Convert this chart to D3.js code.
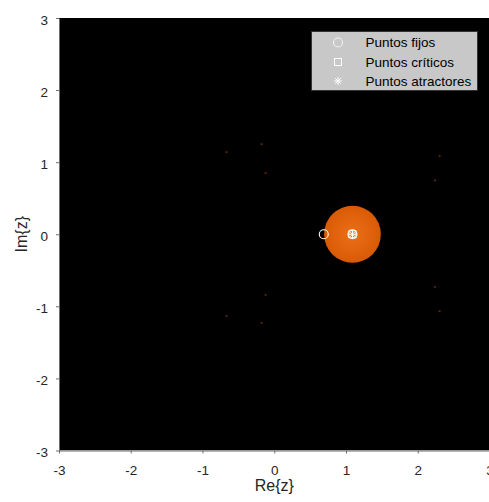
<!DOCTYPE html>
<html><head><meta charset="utf-8">
<script src="https://cdn.jsdelivr.net/npm/d3@7"></script>
<style>
body{margin:0;background:#fff}
svg{display:block;font-family:"Liberation Sans",Arial,Helvetica,sans-serif}
</style>
</head><body>
<svg id="chart" width="489" height="502"></svg>
<script>
// Axis ticks
const xTicks = [-3, -2, -1, 0, 1, 2, 3];
const yTicks = [-3, -2, -1, 0, 1, 2, 3];

// Basin of attraction of the attracting fixed point (centre re, im and radius)
const basinCenter = [1.09, 0];
const basinRadius = 0.395;

// Special points of the rational map
const fixedPoints = [[0.69, 0], [1.09, 0]];
const criticalPoints = [[1.09, 0]];
const attractorPoints = [[1.09, 0]];

// Isolated starting points that also converge to the attractor
const strayRe = [-0.177, -0.665, -0.121, -0.121, -0.665, -0.177, 2.304, 2.238, 2.238, 2.304];
const strayIm = [1.247, 1.136, 0.845, -0.845, -1.136, -1.233, 1.080, 0.744, -0.734, -1.071];

const legendLabels = ["Puntos fijos", "Puntos críticos", "Puntos atractores"];

const svg = d3.select("#chart");
const x = d3.scaleLinear().domain([-3, 3]).range([59, 489.5]);
const y = d3.scaleLinear().domain([-3, 3]).range([450.5, 18]);

svg.append("defs").append("clipPath").attr("id", "plotClip")
  .append("rect").attr("x", x(-3)).attr("y", y(3))
  .attr("width", x(3) - x(-3)).attr("height", y(-3) - y(3));

const grad = svg.select("defs").append("radialGradient").attr("id", "basinGrad");
grad.append("stop").attr("offset", "0%").attr("stop-color", "#ea6e1a");
grad.append("stop").attr("offset", "55%").attr("stop-color", "#e2640e");
grad.append("stop").attr("offset", "100%").attr("stop-color", "#d95a04");

const plot = svg.append("g").attr("clip-path", "url(#plotClip)");
plot.append("rect").attr("x", x(-3)).attr("y", y(3))
  .attr("width", x(3) - x(-3)).attr("height", y(-3) - y(3)).attr("fill", "#000");

plot.append("ellipse")
  .attr("cx", x(basinCenter[0])).attr("cy", y(basinCenter[1]))
  .attr("rx", x(basinCenter[0] + basinRadius) - x(basinCenter[0]))
  .attr("ry", y(basinCenter[1]) - y(basinCenter[1] + basinRadius))
  .attr("fill", "url(#basinGrad)");

plot.selectAll("rect.stray").data(d3.range(strayRe.length)).join("rect")
  .attr("class", "stray")
  .attr("x", i => x(strayRe[i]) - 1).attr("y", i => y(strayIm[i]) - 1)
  .attr("width", 2).attr("height", 1.5).attr("fill", "#6e2c00");

// Marker shapes
const circleMark = (g, cx, cy) => g.append("circle").attr("cx", cx).attr("cy", cy).attr("r", 4.5)
  .attr("fill", "none").attr("stroke", "#fff").attr("stroke-width", 1.1);
const squareMark = (g, cx, cy) => g.append("rect").attr("x", cx - 3.5).attr("y", cy - 3.5)
  .attr("width", 7).attr("height", 7).attr("fill", "none").attr("stroke", "#fff").attr("stroke-width", 1);
const starMark = (g, cx, cy) => {
  const s = 4, d = 2.9;
  g.append("path")
    .attr("d", `M${cx - s},${cy}H${cx + s}M${cx},${cy - s}V${cy + s}M${cx - d},${cy - d}L${cx + d},${cy + d}M${cx - d},${cy + d}L${cx + d},${cy - d}`)
    .attr("stroke", "#fff").attr("stroke-width", 1).attr("fill", "none");
};

fixedPoints.forEach(p => circleMark(plot, x(p[0]), y(p[1])));
criticalPoints.forEach(p => squareMark(plot, x(p[0]), y(p[1])));
attractorPoints.forEach(p => starMark(plot, x(p[0]), y(p[1])));

// Axes (plain hyphen for negative numbers)
const fmt = d => String(d);
const axisColor = "#6e6e6e";
const xAxis = svg.append("g").attr("transform", `translate(0,${y(-3)})`)
  .call(d3.axisBottom(x).tickValues(xTicks).tickSize(3).tickSizeOuter(0).tickPadding(12).tickFormat(fmt));
const yAxis = svg.append("g").attr("transform", `translate(${x(-3)},0)`)
  .call(d3.axisLeft(y).tickValues(yTicks).tickSize(3).tickSizeOuter(0).tickPadding(8).tickFormat(fmt));
[xAxis, yAxis].forEach(a => {
  a.select(".domain").attr("stroke", axisColor);
  a.selectAll(".tick line").attr("stroke", axisColor);
  a.selectAll(".tick text").attr("fill", "#262626").style("font-size", "13.5px")
    .style("font-family", '"Liberation Sans",Arial,sans-serif');
});
xAxis.selectAll(".tick text").attr("text-anchor", "middle");
yAxis.selectAll(".tick text").attr("dy", "0.45em");

svg.append("text").attr("x", x(0)).attr("y", 491).attr("text-anchor", "middle")
  .attr("fill", "#262626").style("font-size", "16px").text("Re{z}");
svg.append("text").attr("transform", `translate(27,${y(0)}) rotate(-90)`).attr("text-anchor", "middle")
  .attr("fill", "#262626").style("font-size", "16px").text("Im{z}");

// Legend
const lg = svg.append("g");
lg.append("rect").attr("x", 311.5).attr("y", 31.5).attr("width", 166).attr("height", 59)
  .attr("fill", "#c8c8c8").attr("stroke", "#333").attr("stroke-width", 1);
const rowY = [42.5, 62, 81];
const markFns = [circleMark, squareMark, starMark];
legendLabels.forEach((t, i) => {
  markFns[i](lg, 338, rowY[i]);
  lg.append("text").attr("x", 365.5).attr("y", rowY[i]).attr("dy", "0.36em")
    .attr("fill", "#000").style("font-size", "13.5px").text(t);
});
lg.selectAll("circle").attr("stroke", "#f2f2f2");
</script>
</body></html>
